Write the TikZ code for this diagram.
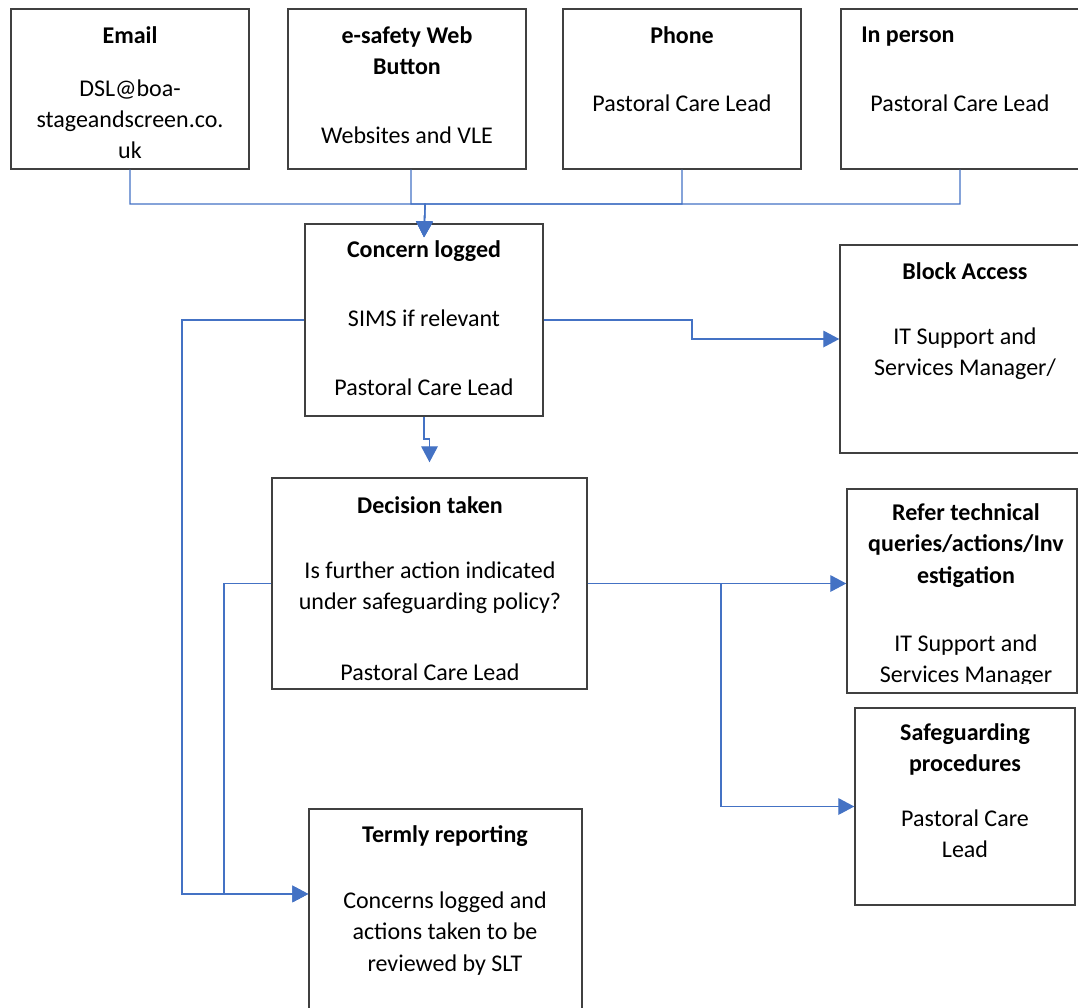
\documentclass[tikz,border=0pt]{standalone}
\usepackage{fontspec}
\setmainfont{Carlito}
\usetikzlibrary{arrows.meta}
\definecolor{boxgray}{HTML}{404040}
\definecolor{lineblue}{HTML}{4472C4}
\begin{document}
\begin{tikzpicture}[x=0.75pt,y=-0.75pt,
  box/.style={draw=boxgray,line width=1.1pt,fill=none,inner sep=0pt},
  txt/.style={align=center,inner sep=0pt,font=\fontsize{18}{23.4}\selectfont},
  hd/.style={txt,font=\fontsize{18}{23.4}\selectfont\bfseries},
  conn/.style={draw=lineblue,line width=1pt,-{Triangle[length=12pt,width=12.5pt]}}]
\useasboundingbox (0,0) rectangle (1078,1007);
\clip (0,0) rectangle (1078,1007);
% boxes
\node[box,minimum width=178.5pt,minimum height=120pt] (email) at (130,89) {};
\node[box,minimum width=178.5pt,minimum height=120pt] (esafe) at (407,89) {};
\node[box,minimum width=178.5pt,minimum height=120pt] (phone) at (682,89) {};
\node[box,minimum width=178.5pt,minimum height=120pt] (inperson) at (960,89) {};
\node[box,minimum width=178.5pt,minimum height=144pt] (concern) at (424,320) {};
\node[box,minimum width=187.5pt,minimum height=156pt] (block) at (965,349) {};
\node[box,minimum width=236.25pt,minimum height=158.25pt] (decision) at (429.5,583.5) {};
\node[box,minimum width=172.5pt,minimum height=153pt] (refer) at (962,591) {};
\node[box,minimum width=165pt,minimum height=147.75pt] (safe) at (965,806.5) {};
\node[box,minimum width=204.75pt,minimum height=188.25pt] (termly) at (445.5,934.5) {};
% texts
\node[hd] (t1) at (130,35) {Email};
\node[txt] (t2) at (130,119) {DSL@boa-\\stageandscreen.co.\\uk};
\node[hd] (t3) at (407,50.5) {e-safety Web\\Button};
\node[txt] (t4) at (407,135) {Websites and VLE};
\node[hd] (t5) at (682,35) {Phone};
\node[txt] (t6) at (682,103) {Pastoral Care Lead};
\node[hd,anchor=base west] (t7) at (861,42) {In person};
\node[txt] (t8) at (960,103) {Pastoral Care Lead};
\node[hd] (t9) at (424,251) {Concern logged};
\node[txt] (t10) at (424,318) {SIMS if relevant};
\node[txt] (t11) at (424,387) {Pastoral Care Lead};
\node[hd] (t12) at (965,271) {Block Access};
\node[txt] (t13) at (965,354) {IT Support and\\Services Manager/};
\node[hd] (t14) at (430,505) {Decision taken};
\node[txt] (t15) at (430,588) {Is further action indicated\\under safeguarding policy?};
\node[txt] (t16) at (430,672) {Pastoral Care Lead};
\node[hd] (t17) at (966,545.5) {Refer technical\\queries/actions/Inv\\estigation};
\begin{scope}
\clip (847,489) rectangle (1077,683);
\node[txt] (t18) at (966,661) {IT Support and\\Services Manager};
\end{scope}
\node[hd] (t19) at (965,749.5) {Safeguarding\\procedures};
\node[txt] (t20) at (965,833.5) {Pastoral Care\\Lead};
\node[hd] (t21) at (445,836) {Termly reporting};
\node[txt] (t22) at (445,933.5) {Concerns logged and\\actions taken to be\\reviewed by SLT};
% connectors
\coordinate (join) at (425,204);
\draw[conn] (email.south) |- (join) -- ([yshift=-10.5pt]concern.north);
\draw[conn] ([xshift=3pt]esafe.south) |- (join) -- ([yshift=-10.5pt]concern.north);
\draw[conn] (phone.south) |- (join) -- ([yshift=-10.5pt]concern.north);
\draw[conn] (inperson.south) |- (join) -- ([yshift=-10.5pt]concern.north);
\draw[conn] (concern.east) -- (692,320) |- ([yshift=7.5pt]block.west);
\draw[conn] (concern.south) |- (429.5,439) -- ([yshift=11.25pt]decision.north);
\draw[conn] (concern.west) -- (182,320) |- ([yshift=30.4pt]termly.west);
\draw[conn] (decision.west) -- (224,583.5) |- ([yshift=30.4pt]termly.west);
\draw[conn] (decision.east) -- (decision.east -| refer.west);
\draw[conn] (decision.east) -- (721,583.5) |- (safe.west);
\end{tikzpicture}
\end{document}
